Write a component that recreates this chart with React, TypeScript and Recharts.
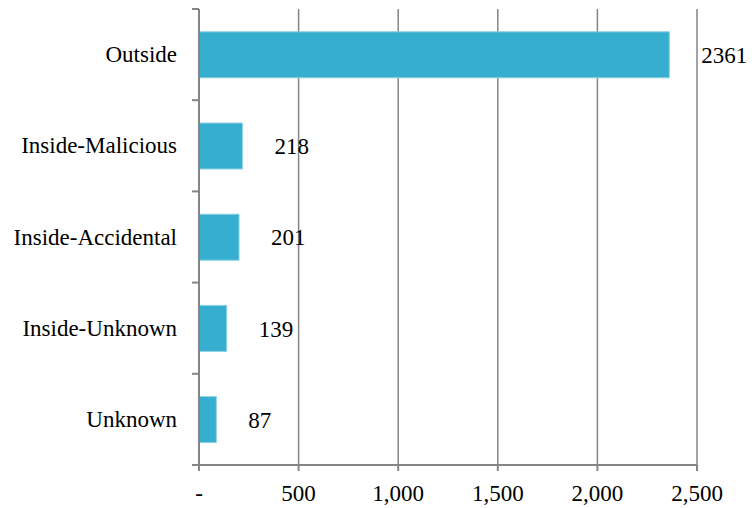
import { BarChart, Bar, XAxis, YAxis, CartesianGrid, LabelList } from 'recharts'

const categories = ['Outside', 'Inside-Malicious', 'Inside-Accidental', 'Inside-Unknown', 'Unknown']
const counts = [2361, 218, 201, 139, 87]
const xTicks = [0, 500, 1000, 1500, 2000, 2500]

const rows = categories.map((name, i) => ({ name, count: counts[i] }))

const FONT = '"Liberation Serif", "DejaVu Serif", serif'
const FS = 23
const AXIS = '#858585'
const BAR = '#35aecf'

const W = 752
const H = 508
const MARGIN = { top: 9, right: 55, bottom: 0, left: 0 }
const X_AXIS_H = 43
const Y_AXIS_W = 199
const bandSize = (H - MARGIN.top - MARGIN.bottom - X_AXIS_H) / categories.length

// y tick: label on the left, short tick mark at the band boundaries (Excel style)
const CategoryTick = (props: any) => {
  const { x, y, payload, index } = props
  const axisX = x + 8
  return (
    <g>
      <line x1={axisX - 7} x2={axisX} y1={y - bandSize / 2} y2={y - bandSize / 2} stroke={AXIS} strokeWidth={2} />
      {index === categories.length - 1 && (
        <line x1={axisX - 7} x2={axisX} y1={y + bandSize / 2} y2={y + bandSize / 2} stroke={AXIS} strokeWidth={2} />
      )}
      <text x={axisX - 22} y={y} textAnchor="end" dominantBaseline="central" fill="#000" fontSize={FS} fontFamily={FONT}>
        {payload.value}
      </text>
    </g>
  )
}

const formatX = (v: number) => (v === 0 ? '-' : v.toLocaleString('en-US'))

export default function App() {
  return (
    <div style={{ position: 'absolute', left: 0, top: 0, background: '#fff' }}>
      <BarChart
        width={W}
        height={H}
        data={rows}
        layout="vertical"
        margin={MARGIN}
        barCategoryGap="25%"
      >
        <CartesianGrid horizontal={false} stroke={AXIS} strokeWidth={1.5} />
        <XAxis
          type="number"
          domain={[0, 2500]}
          ticks={xTicks}
          tickFormatter={formatX}
          height={X_AXIS_H}
          stroke={AXIS}
          strokeWidth={2}
          tickSize={6}
          tickMargin={14}
          tick={{ fill: '#000', fontSize: FS, fontFamily: FONT }}
          interval={0}
        />
        <YAxis
          type="category"
          dataKey="name"
          width={Y_AXIS_W}
          stroke={AXIS}
          strokeWidth={2}
          tickLine={false}
          tick={<CategoryTick />}
          interval={0}
        />
        <Bar dataKey="count" fill={BAR} stroke="#8fd0e3" strokeWidth={1} isAnimationActive={false}>
          <LabelList
            dataKey="count"
            position="right"
            offset={32}
            fill="#000"
            fontSize={FS}
            fontFamily={FONT}
          />
        </Bar>
      </BarChart>
    </div>
  )
}
